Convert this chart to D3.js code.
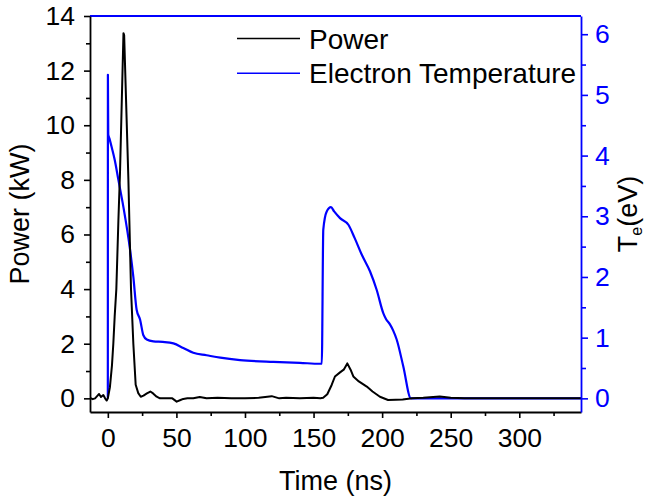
<!DOCTYPE html>
<html>
<head>
<meta charset="utf-8">
<script src="https://cdn.jsdelivr.net/npm/d3@7"></script>
<style>
html,body{margin:0;padding:0;background:#fff;}
svg{display:block;font-family:"Liberation Sans",Arial,sans-serif;}
</style>
</head>
<body>
<svg id="chart" width="648" height="503"></svg>
<script>
// ---- data ----
const powerTime = [-13,-11,-9.3,-7.5,-6.4,-5,-3.3,-2,-0.8,0,1.5,3,4,5,6.2,7.7,8.9,11.4,11.9,15,15.7,16.9,18.6,20.3,22.2,24,26,28.5,31,33,35.6,38,42,47,50.2,53,55,58,62.3,67,72,80,90,100,110,119.5,125,130,140,150,155,157,160,163.2,165.6,169.3,172,174.6,177,179,183,188.8,193,198.4,204.3,210,215,222,230,242,250,260,280,300,320,345];
const powerKW = [0.02,-0.03,0.0,0.1,0.16,0.05,0.12,0.0,-0.08,0.0,0.4,1.2,2.0,3.0,4.0,6.5,8.3,13.37,13.3,8.0,6.5,4.0,2.0,0.5,0.19,0.06,0.1,0.18,0.25,0.18,0.06,0.0,0.0,0.0,-0.12,-0.06,-0.02,0.0,0.0,0.05,0.0,0.02,0.0,0.0,0.02,0.08,0.0,0.02,0.0,0.02,0.0,0.02,0.15,0.49,0.8,0.95,1.05,1.28,1.05,0.8,0.62,0.43,0.25,0.06,-0.06,-0.05,-0.04,0.0,0.02,0.07,0.02,0.0,0.0,0.0,0.0,0.0];

const teTime = [0,0.05,0.3,1.2,3,5,7.7,11.3,16.2,18.6,21,23.5,25.9,28.4,33.2,40,47.8,55,62.3,72,82,96.4,120.7,140,154.7,156,157.1,159.6,162.7,165,169.3,175.4,180,185.1,191.2,196,200.9,203,205.7,208,210.6,215.4,221,250,300,345];
const teEV = [0,5.33,4.35,4.28,4.12,3.93,3.6,3.16,2.45,2.0,1.46,1.3,1.04,0.97,0.94,0.93,0.905,0.83,0.75,0.71,0.67,0.63,0.60,0.585,0.57,0.57,2.78,3.08,3.15,3.08,2.97,2.86,2.64,2.37,2.09,1.79,1.4,1.3,1.22,1.12,0.97,0.53,0.0,0.0,0.0,0.0];

const xTicks = [0,50,100,150,200,250,300];
const yLeftTicks = [0,2,4,6,8,10,12,14];
const yRightTicks = [0,1,2,3,4,5,6];
const legendLabels = ["Power","Electron Temperature"];

// ---- layout ----
const W = 648, H = 503;
const m = {left:90, right:67, top:16, bottom:91};
const pw = W - m.left - m.right, ph = H - m.top - m.bottom;
const svg = d3.select("#chart");
const g = svg.append("g").attr("transform",`translate(${m.left},${m.top})`);

const x = d3.scaleLinear().domain([-13,345]).range([0,pw]);
const yL = d3.scaleLinear().domain([-0.5,14]).range([ph,0]);
const yR = d3.scaleLinear().domain([-0.225,6.3]).range([ph,0]);

const blue = "#0000ff";

// data lines
const linePower = d3.line().x((d,i)=>x(powerTime[i])).y(d=>yL(d));
const lineTe = d3.line().x((d,i)=>x(teTime[i])).y(d=>yR(d)).curve(d3.curveMonotoneX);

g.append("path").attr("d",lineTe(teEV)).attr("fill","none").attr("stroke",blue).attr("stroke-width",2.2).attr("stroke-linejoin","round");
g.append("path").attr("d",linePower(powerKW)).attr("fill","none").attr("stroke","#000").attr("stroke-width",2).attr("stroke-linejoin","round");

// axes
const fontTick = 26.5;
function styleAxis(sel,color){
  sel.select(".domain").attr("stroke",color).attr("stroke-width",1.8);
  sel.selectAll(".tick line").attr("stroke",color).attr("stroke-width",1.6);
  sel.selectAll(".tick text").attr("fill",color).attr("font-size",fontTick).attr("font-family","Liberation Sans, Arial, sans-serif");
}
// minor ticks
const xMinor = d3.range(0,346,25).filter(v=>!xTicks.includes(v));
const xMinorG = g.append("g").attr("transform",`translate(0,${ph})`)
  .call(d3.axisBottom(x).tickValues(xMinor).tickSize(4).tickFormat(""));
xMinorG.select(".domain").remove();
xMinorG.selectAll(".tick line").attr("stroke","#000").attr("stroke-width",1.6);

const yLMinor = d3.range(1,14,2);
const yLMinorG = g.append("g").call(d3.axisLeft(yL).tickValues(yLMinor).tickSize(4).tickFormat(""));
yLMinorG.select(".domain").remove();
yLMinorG.selectAll(".tick line").attr("stroke","#000").attr("stroke-width",1.6);

const yRMinor = [0.5,1.5,2.5,3.5,4.5,5.5];
const yRMinorG = g.append("g").attr("transform",`translate(${pw},0)`).call(d3.axisRight(yR).tickValues(yRMinor).tickSize(5).tickFormat(""));
yRMinorG.select(".domain").remove();
yRMinorG.selectAll(".tick line").attr("stroke",blue).attr("stroke-width",1.6);

// top frame (blue)
g.append("line").attr("x1",0).attr("x2",pw).attr("y1",0).attr("y2",0).attr("stroke",blue).attr("stroke-width",1.8);

const xAxis = g.append("g").attr("transform",`translate(0,${ph})`)
  .call(d3.axisBottom(x).tickValues(xTicks).tickSize(6).tickPadding(10).tickSizeOuter(0).tickFormat(d3.format("d")));
styleAxis(xAxis,"#000");

const yAxisL = g.append("g").call(d3.axisLeft(yL).tickValues(yLeftTicks).tickSize(6).tickPadding(9).tickSizeOuter(0).tickFormat(d3.format("d")));
styleAxis(yAxisL,"#000");

const yAxisR = g.append("g").attr("transform",`translate(${pw},0)`)
  .call(d3.axisRight(yR).tickValues(yRightTicks).tickSize(7).tickPadding(7).tickSizeOuter(0).tickFormat(d3.format("d")));
styleAxis(yAxisR,blue);

// axis titles
svg.append("text").attr("x",m.left+pw/2).attr("y",490).attr("text-anchor","middle")
  .attr("font-size",27).attr("fill","#000").text("Time (ns)");
svg.append("text").attr("transform",`translate(29,${m.top+ph/2}) rotate(-90)`).attr("text-anchor","middle")
  .attr("font-size",27).attr("fill","#000").text("Power (kW)");
const rt = svg.append("text").attr("transform",`translate(637,${m.top+ph/2}) rotate(-90)`).attr("text-anchor","middle")
  .attr("font-size",27).attr("fill","#000");
rt.append("tspan").text("T");
rt.append("tspan").attr("font-size",16).attr("dy",5).text("e");
rt.append("tspan").attr("dy",-5).text("(eV)");

// legend
const legendColors = ["#000",blue];
const lg = svg.append("g");
legendLabels.forEach((lab,i)=>{
  const yy = 38.5 + i*34.7;
  lg.append("line").attr("x1",237).attr("x2",300).attr("y1",yy).attr("y2",yy).attr("stroke",legendColors[i]).attr("stroke-width",1.6);
  lg.append("text").attr("x",309).attr("y",yy+10).attr("font-size",28).attr("fill","#000").text(lab);
});
</script>
</body>
</html>
